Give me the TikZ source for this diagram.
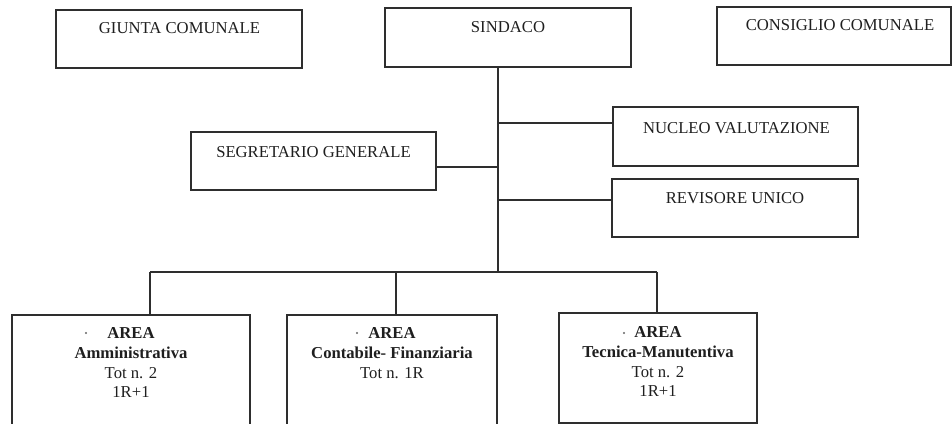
\documentclass[tikz,border=0pt]{standalone}
\usepackage{fontspec}
\setmainfont{Liberation Serif}
\begin{document}
\begin{tikzpicture}[x=0.75pt,y=-0.75pt,
  box/.style={draw=black!82,line width=1.3pt,rectangle,inner sep=0pt,fill=none},
  toptext/.style={anchor=base,inner sep=0pt,font=\fontsize{12.5}{14.6}\selectfont,text=black!88},
  areatext/.style={anchor=north,inner sep=0pt,align=center,font=\fontsize{12.5}{14.8}\selectfont,text=black!88},
  link/.style={draw=black!82,line width=1.3pt},
  speck/.style={fill=black!60}]
\useasboundingbox (0,0) rectangle (952,424);
\fill[white] (0,0) rectangle (952,424);
\clip (0,0) rectangle (952,424);

% top row
\node[box,minimum width=184.5pt,minimum height=43.5pt] (giunta) at (179,39) {};
\node[toptext] (giuntat) at (179.5,34) {GIUNTA COMUNALE};
\node[box,minimum width=184.5pt,minimum height=44.25pt] (sindaco) at (508,37.5) {};
\node[toptext] (sindacot) at (508,33) {SINDACO};
\node[box,minimum width=175.5pt,minimum height=43.5pt] (consiglio) at (834,36) {};
\node[toptext] (consigliot) at (840,31) {CONSIGLIO COMUNALE};

% middle
\node[box,minimum width=183.75pt,minimum height=44.25pt] (nucleo) at (735.5,136.5) {};
\node[toptext] (nucleot) at (736.5,133) {NUCLEO VALUTAZIONE};
\node[box,minimum width=183.75pt,minimum height=43.5pt] (segr) at (313.5,161) {};
\node[toptext] (segrt) at (313.5,157) {SEGRETARIO GENERALE};
\node[box,minimum width=184.5pt,minimum height=43.5pt] (rev) at (735,208) {};
\node[toptext] (revt) at (735,203) {REVISORE UNICO};

% bottom areas
\node[box,minimum width=178.5pt,minimum height=86.25pt] (amm) at (131,372.5) {};
\node[areatext] (ammt) at (131,327.5) {\textbf{AREA}\\\textbf{Amministrativa}\\Tot n. 2\\1R+1};
\node[box,minimum width=157.5pt,minimum height=86.25pt] (cont) at (392,372.5) {};
\node[areatext] (contt) at (392,327.5) {\textbf{AREA}\\\textbf{Contabile- Finanziaria}\\Tot n. 1R};
\node[box,minimum width=148.5pt,minimum height=82.5pt] (tec) at (658,368) {};
\node[areatext] (tect) at (658,326.5) {\textbf{AREA}\\\textbf{Tecnica-Manutentiva}\\Tot n. 2\\1R+1};

% small specks before AREA
\fill[speck] (86,333) circle (1.1);
\fill[speck] (357,333) circle (1.1);
\fill[speck] (624,333) circle (1.1);

% connectors
\coordinate (spinetop) at (498,67);
\coordinate (spinebot) at (498,272);
\coordinate (jN) at (498,123);
\coordinate (jS) at (498,167);
\coordinate (jR) at (498,200);
\coordinate (barL) at (150,272);
\coordinate (barM) at (396,272);
\coordinate (barR) at (657,272);

\draw[link] (sindaco.south -| spinetop) -- (spinebot);
\draw[link] (jN) -- (nucleo.west |- jN);
\draw[link] (segr.east |- jS) -- (jS);
\draw[link] (jR) -- (rev.west |- jR);
\draw[link] (barL) -- (barR);
\draw[link] (barL) -- (amm.north -| barL);
\draw[link] (barM) -- (cont.north -| barM);
\draw[link] (barR) -- (tec.north -| barR);
\end{tikzpicture}
\end{document}
